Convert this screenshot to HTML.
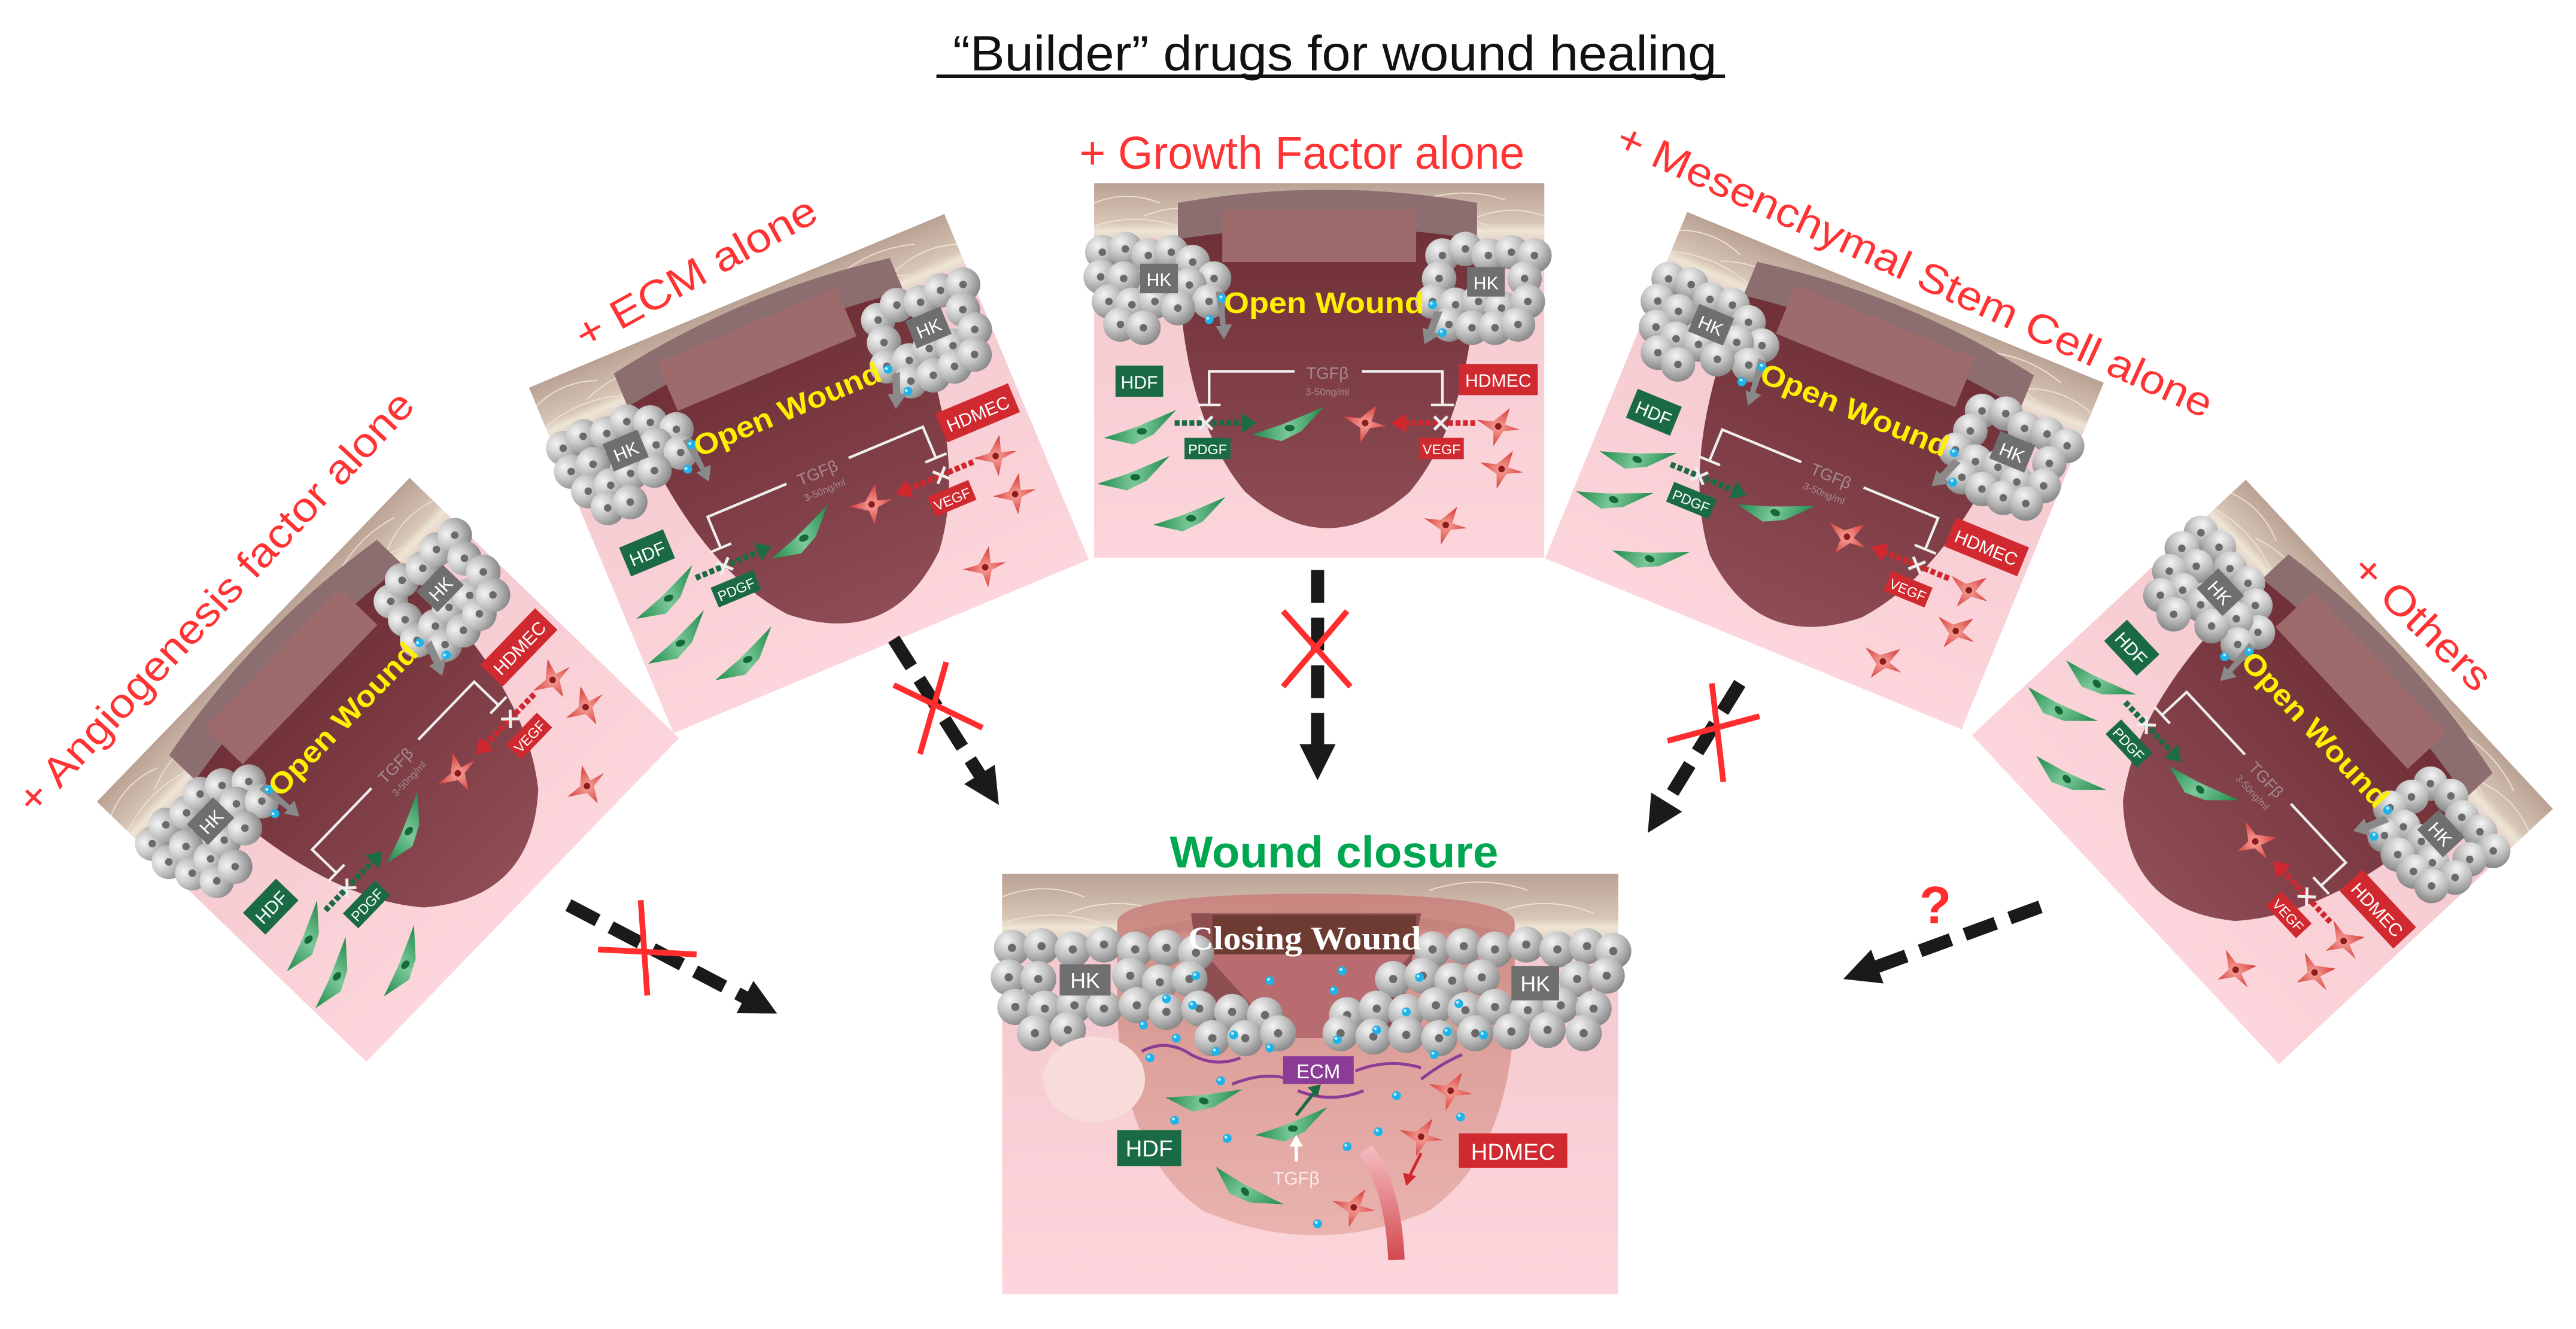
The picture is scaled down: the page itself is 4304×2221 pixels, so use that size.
<!DOCTYPE html>
<html><head><meta charset="utf-8"><style>
html,body{margin:0;padding:0;background:#fff;}
svg{display:block;}
</style></head><body>
<svg width="4304" height="2221" viewBox="0 0 1568 809" xmlns="http://www.w3.org/2000/svg" font-family="Liberation Sans, sans-serif">
<defs>
<linearGradient id="pink" x1="0" y1="0" x2="0" y2="1"><stop offset="0" stop-color="#f3c6cd"/><stop offset="1" stop-color="#fcd6dc"/></linearGradient>
<linearGradient id="skin" x1="0" y1="0" x2="0" y2="1"><stop offset="0" stop-color="#b9a293"/><stop offset="0.7" stop-color="#d7c5b6"/><stop offset="0.85" stop-color="#eee5d4"/><stop offset="1" stop-color="#e6d6cc"/></linearGradient>
<linearGradient id="bowl" x1="0" y1="0" x2="0" y2="1"><stop offset="0" stop-color="#6c2c33"/><stop offset="1" stop-color="#8e4c55"/></linearGradient>
<linearGradient id="cbowl" x1="0" y1="0" x2="0" y2="1"><stop offset="0" stop-color="#c98680"/><stop offset="0.5" stop-color="#dfa29d"/><stop offset="1" stop-color="#eab3ae"/></linearGradient>
<radialGradient id="cg" cx="0.35" cy="0.3" r="0.75"><stop offset="0" stop-color="#f4f4f4"/><stop offset="0.5" stop-color="#c2c2c2"/><stop offset="1" stop-color="#858585"/></radialGradient>
<linearGradient id="gg" x1="0" y1="0" x2="1" y2="0"><stop offset="0" stop-color="#1f8a4a"/><stop offset="0.5" stop-color="#7cc99a"/><stop offset="1" stop-color="#1f8a4a"/></linearGradient>
<radialGradient id="rg" cx="0.5" cy="0.5" r="0.6"><stop offset="0" stop-color="#f7a39a"/><stop offset="1" stop-color="#d3302e"/></radialGradient>
<linearGradient id="vessel" x1="0" y1="0" x2="0" y2="1"><stop offset="0" stop-color="#f3b9bd"/><stop offset="1" stop-color="#d3494f"/></linearGradient>
<g id="k"><circle r="10.5" fill="url(#cg)"/><circle r="2.3" fill="#6a6a6a"/></g>
<g id="K"><circle r="11" fill="url(#cg)"/><circle r="2.5" fill="#6a6a6a"/></g>
<g id="gc"><path d="M-22,5 L-4,-1 Q6,-5 22,-12 L8,3 L-4,9 Z" fill="url(#gg)"/><ellipse cx="1" cy="1" rx="3" ry="2" fill="#17693a"/></g>
<g id="rc"><path d="M-13,-4 L-3,-3 L7,-11 L4,-1 L13,2 L3,3 L-3,12 L-3,3 Z" fill="url(#rg)"/><circle r="2" fill="#8b1d1d"/></g>
<g id="bd"><circle r="2.7" fill="#1fb3ea"/><circle cx="-0.8" cy="-0.8" r="0.9" fill="#bfefff"/></g>

<g id="P">
<rect width="274" height="228" fill="url(#pink)"/>
<rect width="274" height="34" fill="url(#skin)"/>
<path d="M0,12 Q20,4 40,12 M30,20 Q55,10 80,20 M0,26 Q25,18 50,26 M200,10 Q225,2 250,10 M230,22 Q252,12 274,20 M190,26 Q215,16 240,26" stroke="#ece0d2" stroke-width="0.7" fill="none"/>
<path d="M51,12 Q142,-4 233,12 L233,40 Q232,140 192,188 Q142,232 92,188 Q52,140 51,40 Z" fill="url(#bowl)"/>
<path d="M51,12 Q142,-4 233,12 L233,34 Q142,20 51,34 Z" fill="#8d6e70"/>
<rect x="78" y="16" width="118" height="32" fill="#9e6b6c"/>
<use href="#k" x="5" y="42"/><use href="#k" x="19" y="40"/><use href="#k" x="33" y="44"/><use href="#k" x="47" y="42"/><use href="#k" x="60" y="48"/><use href="#k" x="73" y="58"/>
<use href="#k" x="4" y="57"/><use href="#k" x="18" y="58"/><use href="#k" x="58" y="62"/><use href="#k" x="70" y="72"/>
<use href="#k" x="9" y="72"/><use href="#k" x="23" y="74"/><use href="#k" x="37" y="72"/><use href="#k" x="51" y="76"/>
<use href="#k" x="16" y="86"/><use href="#k" x="30" y="88"/>
<use href="#k" x="212" y="44"/><use href="#k" x="226" y="40"/><use href="#k" x="240" y="44"/><use href="#k" x="254" y="42"/><use href="#k" x="268" y="44"/>
<use href="#k" x="210" y="58"/><use href="#k" x="262" y="58"/><use href="#k" x="206" y="72"/><use href="#k" x="220" y="74"/><use href="#k" x="234" y="72"/><use href="#k" x="248" y="76"/><use href="#k" x="264" y="72"/>
<use href="#k" x="216" y="86"/><use href="#k" x="230" y="88"/><use href="#k" x="244" y="88"/><use href="#k" x="258" y="86"/>
<rect x="28" y="49" width="23" height="18" fill="#6f6f6f"/><text x="39.5" y="62.5" font-size="11" fill="#fff" text-anchor="middle">HK</text>
<rect x="227" y="51" width="23" height="18" fill="#6f6f6f"/><text x="238.5" y="64.5" font-size="11" fill="#fff" text-anchor="middle">HK</text>
<path d="M74,66 L79,66 L80,86 L84,86 L79,95 L74,87 L77,87 Z" fill="#8a8a8a"/>
<path d="M207,78 L212,78 L207,91 L211,92 L201,98 L200,88 L203,89 Z" fill="#8a8a8a"/>
<use href="#bd" x="78" y="70"/><use href="#bd" x="70" y="83"/><use href="#bd" x="206" y="74"/><use href="#bd" x="212" y="91"/>
<text x="79" y="79" font-size="18" font-weight="bold" fill="#ffef00" textLength="122" lengthAdjust="spacingAndGlyphs">Open Wound</text>
<text x="142" y="119" font-size="10" fill="#a48a8c" text-anchor="middle">TGFβ</text>
<text x="142" y="129" font-size="6" fill="#a48a8c" text-anchor="middle">3-50ng/ml</text>
<path d="M122,114.5 L70,114.5 L70,135 M63,135 L77,135 M163,114.5 L212,114.5 L212,135 M205,135 L219,135" stroke="#eee" stroke-width="1.6" fill="none"/>
<rect x="13" y="111" width="29" height="19" fill="#1a6b45"/><text x="27.5" y="125" font-size="11" fill="#fff" text-anchor="middle">HDF</text>
<rect x="222" y="110" width="48" height="19" fill="#d02a30"/><text x="246" y="124" font-size="11" fill="#fff" text-anchor="middle">HDMEC</text>
<rect x="55" y="155" width="28" height="13" fill="#1a6b45"/><text x="69" y="165" font-size="8.5" fill="#fff" text-anchor="middle">PDGF</text>
<rect x="198" y="155" width="27" height="13" fill="#d02a30"/><text x="211.5" y="165" font-size="8.5" fill="#fff" text-anchor="middle">VEGF</text>
<line x1="49" y1="146" x2="92" y2="146" stroke="#1d6b45" stroke-width="3.5" stroke-dasharray="3 1.5"/>
<path d="M90,140 L99,146 L90,152 Z" fill="#1d6b45"/>
<line x1="232" y1="146" x2="188" y2="146" stroke="#d0282e" stroke-width="3.5" stroke-dasharray="3 1.5"/>
<path d="M190,140 L181,146 L190,152 Z" fill="#d0282e"/>
<path d="M64,142 L72,150 M72,142 L64,150 M207,142 L215,150 M215,142 L207,150" stroke="#eee" stroke-width="1.8"/>
<use href="#gc" x="28" y="150"/><use href="#gc" x="24" y="178"/><use href="#gc" x="58" y="203"/><use href="#gc" x="118" y="148"/>
<use href="#rc" x="165" y="146"/><use href="#rc" x="246" y="148"/><use href="#rc" x="248" y="174"/><use href="#rc" x="214" y="208"/>
</g>
</defs>

<text x="580" y="42.7" font-size="30" fill="#111" textLength="465" lengthAdjust="spacingAndGlyphs">“Builder” drugs for wound healing</text>
<line x1="570" y1="46.3" x2="1050" y2="46.3" stroke="#111" stroke-width="2"/>

<use href="#P" transform="translate(666,111.5)"/>
<use href="#P" transform="translate(322,236) rotate(-22.7)"/>
<use href="#P" transform="translate(59,488) rotate(-46)"/>
<use href="#P" transform="translate(1027,129) rotate(22.3)"/>
<use href="#P" transform="translate(1367,292) rotate(47)"/>

<text x="657" y="102.7" font-size="28" fill="#ff3333" textLength="271" lengthAdjust="spacingAndGlyphs">+ Growth Factor alone</text>
<text transform="translate(356,213) rotate(-29)" font-size="25" fill="#ff3333" textLength="164" lengthAdjust="spacingAndGlyphs">+ ECM alone</text>
<text transform="translate(21,497) rotate(-47)" font-size="25" fill="#ff3333" textLength="341" lengthAdjust="spacingAndGlyphs">+ Angiogenesis factor alone</text>
<text transform="translate(982,90) rotate(24.6)" font-size="25" fill="#ff3333" textLength="396" lengthAdjust="spacingAndGlyphs">+ Mesenchymal Stem Cell alone</text>
<text transform="translate(1430,348) rotate(44)" font-size="25" fill="#ff3333" textLength="107" lengthAdjust="spacingAndGlyphs">+ Others</text>

<g stroke="#1a1a1a" stroke-width="8" stroke-dasharray="20 9" fill="none">
<line x1="346" y1="551" x2="455" y2="608"/>
<line x1="544" y1="389" x2="598.4" y2="474.8"/>
<line x1="802" y1="347" x2="802" y2="457"/>
<line x1="1059" y1="416" x2="1012.4" y2="491.7"/>
<line x1="1242" y1="552" x2="1138.9" y2="589.8"/>
</g>
<g fill="#1a1a1a">
<polygon points="473,617 448.4,616.7 458.6,597.1"/>
<polygon points="608,490 586.9,477.3 605.5,465.5"/>
<polygon points="802,475 791,453 813,453"/>
<polygon points="1003,507 1005.1,482.5 1023.9,494.1"/>
<polygon points="1122,596 1138.9,578.1 1146.5,598.7"/>
</g>
<g stroke="#ff2d2d" stroke-width="3.5">
<line x1="364" y1="578" x2="424" y2="581"/><line x1="390" y1="548" x2="394" y2="606"/>
<line x1="576" y1="403" x2="560" y2="459"/><line x1="544" y1="417" x2="598" y2="443"/>
<line x1="781" y1="372" x2="822" y2="418"/><line x1="820" y1="372" x2="781" y2="418"/>
<line x1="1042" y1="416" x2="1049" y2="476"/><line x1="1015" y1="451" x2="1071" y2="436"/>
</g>
<text x="1178" y="562" font-size="32" font-weight="bold" fill="#ff2d2d" text-anchor="middle">?</text>

<text x="812" y="528" font-size="27" font-weight="bold" fill="#00a650" text-anchor="middle" textLength="200" lengthAdjust="spacingAndGlyphs">Wound closure</text>

<g transform="translate(610,532)">
<rect width="375" height="256" fill="url(#pink)"/>
<rect width="375" height="38" fill="url(#skin)"/>
<path d="M0,14 Q25,4 50,14 M40,24 Q70,12 100,24 M260,10 Q290,0 320,10 M300,24 Q330,12 360,24 M0,30 Q30,20 60,30" stroke="#ece0d2" stroke-width="0.7" fill="none"/>
<path d="M70,30 Q70,12 191,12 Q312,12 312,30 L312,80 Q310,170 260,205 Q191,235 122,205 Q72,170 70,80 Z" fill="url(#cbowl)"/>
<path d="M78,35 Q191,10 304,35 L304,40 Q191,22 78,40 Z" fill="#c07e78" opacity="0.6"/>
<path d="M115,24 L255,24 L240,100 L125,100 Z" fill="#8e4f52"/>
<path d="M123,48 L250,48 L200,100 L170,100 Z" fill="#b86c70"/>
<rect x="128" y="25" width="124" height="24" fill="#6e3b32"/>
<g>
<use href="#K" x="6" y="45"/><use href="#K" x="24" y="44"/><use href="#K" x="43" y="46"/><use href="#K" x="62" y="43"/><use href="#K" x="81" y="46"/><use href="#K" x="100" y="45"/><use href="#K" x="118" y="48"/>
<use href="#K" x="262" y="46"/><use href="#K" x="281" y="44"/><use href="#K" x="300" y="46"/><use href="#K" x="319" y="43"/><use href="#K" x="338" y="46"/><use href="#K" x="356" y="44"/><use href="#K" x="372" y="47"/>
<use href="#K" x="4" y="63"/><use href="#K" x="22" y="64"/><use href="#K" x="78" y="62"/><use href="#K" x="96" y="66"/><use href="#K" x="114" y="64"/>
<use href="#K" x="238" y="64"/><use href="#K" x="256" y="62"/><use href="#K" x="274" y="65"/><use href="#K" x="292" y="63"/><use href="#K" x="350" y="64"/><use href="#K" x="368" y="62"/>
<use href="#K" x="8" y="81"/><use href="#K" x="26" y="82"/><use href="#K" x="44" y="80"/><use href="#K" x="62" y="82"/><use href="#K" x="82" y="80"/><use href="#K" x="100" y="84"/><use href="#K" x="120" y="82"/><use href="#K" x="140" y="84"/><use href="#K" x="160" y="86"/>
<use href="#K" x="210" y="86"/><use href="#K" x="228" y="82"/><use href="#K" x="246" y="84"/><use href="#K" x="264" y="80"/><use href="#K" x="282" y="83"/><use href="#K" x="300" y="81"/><use href="#K" x="320" y="83"/><use href="#K" x="340" y="80"/><use href="#K" x="360" y="82"/>
<use href="#K" x="20" y="97"/><use href="#K" x="40" y="95"/><use href="#K" x="128" y="100"/><use href="#K" x="148" y="100"/><use href="#K" x="168" y="97"/>
<use href="#K" x="206" y="97"/><use href="#K" x="226" y="99"/><use href="#K" x="246" y="98"/><use href="#K" x="266" y="100"/><use href="#K" x="288" y="97"/><use href="#K" x="310" y="96"/><use href="#K" x="332" y="95"/><use href="#K" x="354" y="97"/>
</g>
<rect x="35" y="55" width="31" height="19" fill="#6f6f6f"/><text x="50.5" y="69.5" font-size="13" fill="#fff" text-anchor="middle">HK</text>
<rect x="310" y="56" width="29" height="21" fill="#6f6f6f"/><text x="324.5" y="71.5" font-size="13" fill="#fff" text-anchor="middle">HK</text>
<text x="184" y="46" style="font-family:'Liberation Serif',serif" font-size="20" font-weight="bold" fill="#fff" text-anchor="middle" textLength="142" lengthAdjust="spacingAndGlyphs">Closing Wound</text>
<ellipse cx="56" cy="125" rx="31" ry="26" fill="#f7dcd9"/>
<path d="M85,108 Q100,100 115,110 Q130,118 145,112 M140,128 Q160,120 175,125 M215,120 Q235,112 255,118 M255,125 Q268,115 280,110 M180,132 Q200,140 220,132" stroke="#8a3c96" stroke-width="1.8" fill="none"/>
<rect x="171" y="111" width="43" height="17" fill="#8a3c96"/><text x="192.5" y="124.5" font-size="12" fill="#fff" text-anchor="middle">ECM</text>
<use href="#gc" x="122" y="137" transform="rotate(15 122 137)"/>
<use href="#gc" x="176" y="154"/>
<use href="#gc" x="148" y="192" transform="rotate(50 148 192)"/>
<line x1="179" y1="147" x2="190" y2="133" stroke="#1a6b45" stroke-width="2"/><path d="M186,130 L194,128 L192,136 Z" fill="#1a6b45"/>
<path d="M221,168 Q238,190 240,235" stroke="url(#vessel)" stroke-width="10" fill="none"/>
<use href="#rc" x="273" y="132"/><use href="#rc" x="255" y="160"/><use href="#rc" x="214" y="203"/>
<line x1="255" y1="170" x2="248" y2="184" stroke="#d0282e" stroke-width="1.8"/><path d="M244,182 L246,190 L252,184 Z" fill="#d0282e"/>
<rect x="70" y="156" width="39" height="22" fill="#1a6b45"/><text x="89.5" y="172" font-size="14" fill="#fff" text-anchor="middle">HDF</text>
<rect x="278" y="158" width="66" height="21" fill="#d02a30"/><text x="311" y="174" font-size="14" fill="#fff" text-anchor="middle">HDMEC</text>
<line x1="179" y1="175" x2="179" y2="165" stroke="#fff" stroke-width="2"/><path d="M175,166 L179,159 L183,166 Z" fill="#fff"/>
<text x="179" y="189" font-size="11" fill="#fbe8ea" text-anchor="middle">TGFβ</text>
<use href="#bd" x="118" y="62"/><use href="#bd" x="100" y="76"/><use href="#bd" x="116" y="80"/><use href="#bd" x="86" y="92"/><use href="#bd" x="106" y="100"/><use href="#bd" x="130" y="108"/><use href="#bd" x="141" y="98"/><use href="#bd" x="163" y="106"/>
<use href="#bd" x="163" y="65"/><use href="#bd" x="207" y="59"/><use href="#bd" x="202" y="71"/><use href="#bd" x="254" y="63"/><use href="#bd" x="246" y="84"/><use href="#bd" x="228" y="95"/><use href="#bd" x="204" y="101"/><use href="#bd" x="271" y="96"/><use href="#bd" x="293" y="98"/><use href="#bd" x="278" y="79"/>
<use href="#bd" x="90" y="112"/><use href="#bd" x="133" y="126"/><use href="#bd" x="263" y="110"/><use href="#bd" x="240" y="135"/><use href="#bd" x="279" y="148"/><use href="#bd" x="105" y="150"/><use href="#bd" x="137" y="161"/><use href="#bd" x="229" y="157"/><use href="#bd" x="210" y="166"/><use href="#bd" x="192" y="213"/>
</g>
</svg>
</body></html>
